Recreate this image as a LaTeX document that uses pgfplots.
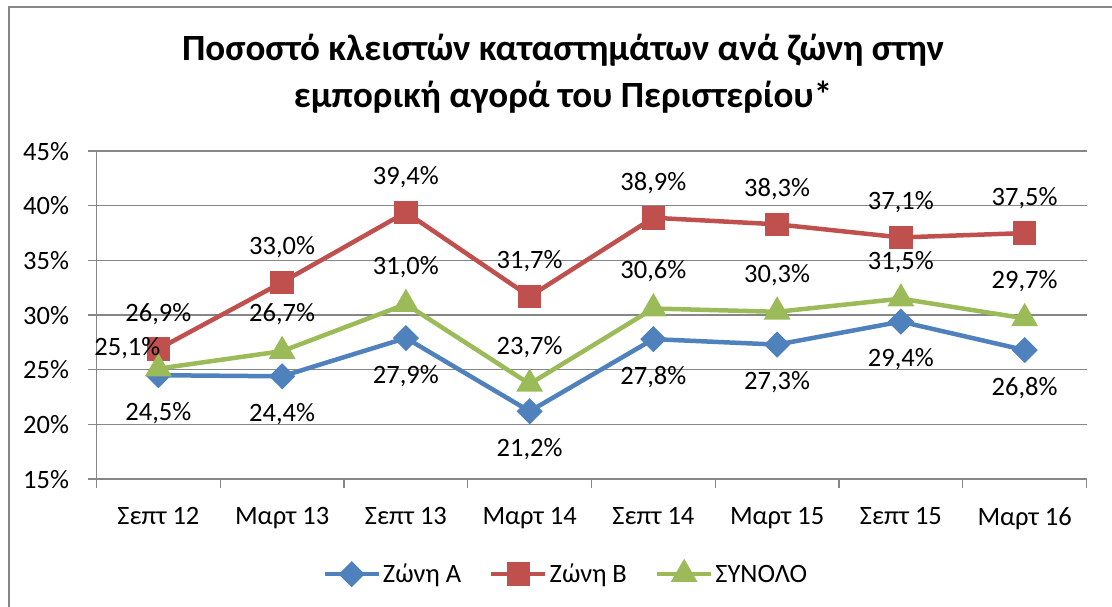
\documentclass[border=0pt]{standalone}
\usepackage{fontspec}
\setmainfont{Carlito}
\usepackage{pgfplots}
\usepackage{pgfplotstable}
\pgfplotsset{compat=1.18}
\definecolor{serA}{HTML}{4F81BD}
\definecolor{serB}{HTML}{C0504D}
\definecolor{serT}{HTML}{9BBB59}
\definecolor{gridc}{HTML}{868686}

\pgfplotstableread{
x a
0 24.5
1 24.4
2 27.9
3 21.2
4 27.8
5 27.3
6 29.4
7 26.8
}\tabA
\pgfplotstableread{
x b
0 26.9
1 33.0
2 39.4
3 31.7
4 38.9
5 38.3
6 37.1
7 37.5
}\tabB
\pgfplotstableread{
x t
0 25.1
1 26.7
2 31.0
3 23.7
4 30.6
5 30.3
6 31.5
7 29.7
}\tabT

\pgfplotsset{
  lab/.style={nodes near coords={\pgfmathprintnumber[use comma,fixed,fixed zerofill,precision=1,assume math mode=true]{\pgfplotspointmeta}\%},
  every node near coord/.append style={font=\fontsize{26.5}{26.5}\selectfont, black, anchor=center, #1}},
}

\begin{document}
\begin{tikzpicture}[x=1pt,y=1pt]
\path[use as bounding box] (0,0) rectangle (1112,607);
\draw[gridc, line width=1.5pt] (9,-10) -- (9,600) -- (1125,600);
\node[font=\fontsize{37}{37}\selectfont\bfseries] at (563,557) {Ποσοστό κλειστών καταστημάτων ανά ζώνη στην};
\node[font=\fontsize{37}{37}\selectfont\bfseries] at (563,510) {εμπορική αγορά του Περιστερίου*};
\begin{axis}[
  at={(78,117)}, anchor=south west,
  scale only axis, width=990pt, height=328pt,
  xmin=-0.5, xmax=7.5, ymin=15, ymax=45,
  axis x line*=bottom, axis y line*=left,
  axis line style={gridc, line width=1.5pt, -},
  xtick={-0.5,0.5,...,7.5},
  x tick label as interval,
  xticklabels={Σεπτ 12,Μαρτ 13,Σεπτ 13,Μαρτ 14,Σεπτ 14,Μαρτ 15,Σεπτ 15,Μαρτ 16},
  ytick={15,20,...,45},
  yticklabel={\pgfmathprintnumber{\tick}\%},
  /pgf/number format/assume math mode=true,
  ymajorgrids, grid style={gridc, line width=1.3pt},
  tick style={gridc, line width=1.3pt},
  major tick length=9pt, tick align=outside,
  tick label style={font=\fontsize{26.5}{26.5}\selectfont},
  xticklabel style={yshift=-16pt},
  yticklabel style={xshift=-15pt},
  clip=false,
  legend style={at={(axis description cs:0.474,-0.29)}, anchor=center, draw=none,
    font=\fontsize{26.5}{26.5}\selectfont, legend columns=3,
    /tikz/every even column/.append style={column sep=26pt}},
  legend image code/.code={\draw[mark repeat=2,mark phase=2,#1] plot coordinates {(0pt,0pt)(27pt,0pt)(54pt,0pt)};},
]
\addplot[serA, line width=4.5pt, mark=square*, mark size=7pt, mark options={rotate=45, solid},
  lab={yshift=-38pt}]
  table[x=x, y=a, meta=a] {\tabA};
\addlegendentry{Ζώνη Α}
\addplot[serB, line width=4.5pt, mark=square*, mark size=9.5pt, mark options={solid},
  lab={yshift=35pt}]
  table[x=x, y=b, meta=b] {\tabB};
\addlegendentry{Ζώνη Β}
\addplot[serT, line width=4.5pt, mark=triangle*, mark size=11pt, mark options={solid}]
  table[x=x, y=t] {\tabT};
\addlegendentry{ΣΥΝΟΛΟ}
\addplot[draw=none, forget plot, lab={yshift=37pt}]
  table[x=x, y=t, meta=t, restrict expr to domain={\thisrow{x}}{1:7}] {\tabT};
\addplot[draw=none, forget plot, lab={xshift=-31pt, yshift=20pt}]
  table[x=x, y=t, meta=t, restrict expr to domain={\thisrow{x}}{0:0}] {\tabT};
\end{axis}
\end{tikzpicture}
\end{document}
